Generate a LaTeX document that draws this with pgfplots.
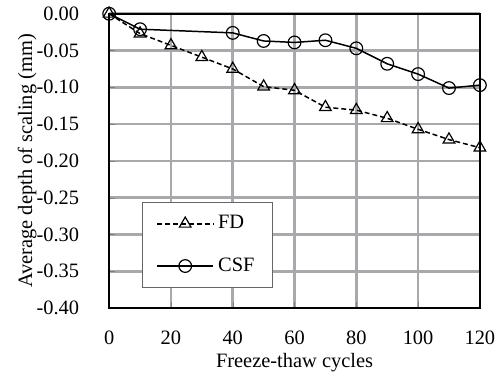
\documentclass[border={5.5pt 0pt 0pt 0pt}]{standalone}
\usepackage{fontspec}
\setmainfont{Liberation Serif}
\usepackage{pgfplots}
\pgfplotsset{compat=1.18}
\definecolor{gridgray}{rgb}{0.66,0.66,0.68}
\begin{document}
\fontsize{10.3}{12}\selectfont
\begin{tikzpicture}
\begin{axis}[
  scale only axis,
  width=187pt, height=148.5pt,
  xmin=0, xmax=120, ymin=-0.40, ymax=0,
  xtick={0,20,...,120},
  ytick={-0.40,-0.35,-0.30,-0.25,-0.20,-0.15,-0.10,-0.05,0},
  yticklabels={-0.40,-0.35,-0.30,-0.25,-0.20,-0.15,-0.10,-0.05,0.00},
  /pgf/number format/assume math mode=true,
  tick label style={font=\fontsize{10.3}{12}\selectfont},
  label style={font=\fontsize{10.3}{12}\selectfont},
  xticklabel style={yshift=-8pt},
  yticklabel style={xshift=-11.5pt},
  tick align=inside,
  major tick length=3pt,
  xtick pos=bottom, ytick pos=left,
  grid=major,
  grid style={draw=gridgray, line width=1.3pt},
  axis line style={black, line width=1.1pt},
  xlabel={Freeze-thaw cycles},
  ylabel={Average depth of scaling (mm)},
  xlabel style={yshift=3pt},
  ylabel style={yshift=-7pt},
  clip=false,
  legend style={at={(axis cs:10.6,-0.256)}, anchor=north west, draw=black!60, line width=0.5pt,
    font=\fontsize{10.3}{12}\selectfont, row sep=9pt, inner xsep=7pt, inner ysep=4.5pt},
  legend cell align=left,
  legend image code/.code={
    \draw[#1] (0cm,0cm) -- (1cm,0cm);
    \draw[#1, solid] plot coordinates {(0.5cm,0cm)};
  },
]
\addplot[black, line width=0.75pt, dashed, dash pattern=on 2.5pt off 1.5pt,
  mark=triangle, mark size=3.4pt, mark options={solid, fill=white, line width=0.6pt}]
  coordinates {(0,0) (10,-0.027) (20,-0.043) (30,-0.059) (40,-0.075) (50,-0.099) (60,-0.104)
   (70,-0.127) (80,-0.131) (90,-0.142) (100,-0.157) (110,-0.171) (120,-0.182)};
\addlegendentry{FD}
\addplot[black, line width=0.75pt, mark=o, mark size=3.2pt,
  mark options={solid, fill=white, line width=0.6pt}]
  coordinates {(0,0) (10,-0.021) (40,-0.026) (50,-0.037) (60,-0.039) (70,-0.036)
   (80,-0.047) (90,-0.068) (100,-0.082) (110,-0.101) (120,-0.097)};
\addlegendentry{CSF\hspace{6pt}}
\end{axis}
\end{tikzpicture}
\end{document}
